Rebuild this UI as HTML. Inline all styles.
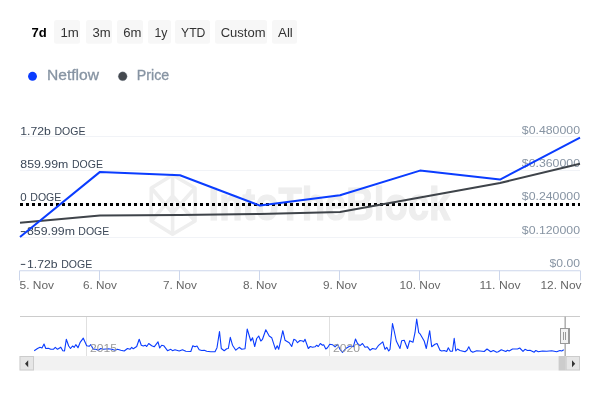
<!DOCTYPE html>
<html><head><meta charset="utf-8"><title>chart</title>
<style>
html,body{margin:0;padding:0;background:#fff;}
body{width:600px;height:400px;overflow:hidden;}
svg{display:block;will-change:transform;font-family:"Liberation Sans",sans-serif;}
</style></head><body>
<svg width="600" height="400" viewBox="0 0 600 400">
<rect width="600" height="400" fill="#ffffff"/>
<!-- range selector -->
<rect x="54" y="20.1" width="26" height="23.7" rx="2.5" fill="#f7f7f7"/><rect x="86" y="20.1" width="26" height="23.7" rx="2.5" fill="#f7f7f7"/><rect x="117" y="20.1" width="26" height="23.7" rx="2.5" fill="#f7f7f7"/><rect x="148" y="20.1" width="23" height="23.7" rx="2.5" fill="#f7f7f7"/><rect x="175" y="20.1" width="35" height="23.7" rx="2.5" fill="#f7f7f7"/><rect x="215" y="20.1" width="52" height="23.7" rx="2.5" fill="#f7f7f7"/><rect x="272" y="20.1" width="25" height="23.7" rx="2.5" fill="#f7f7f7"/>
<g id="btxt">
<text x="31.5" y="36.8" font-size="12" fill="#000000" text-anchor="start" font-weight="bold" textLength="15.2" lengthAdjust="spacingAndGlyphs">7d</text>
<text x="60.5" y="36.8" font-size="12" fill="#333333" text-anchor="start" font-weight="normal" textLength="18.4" lengthAdjust="spacingAndGlyphs">1m</text>
<text x="92.5" y="36.8" font-size="12" fill="#333333" text-anchor="start" font-weight="normal" textLength="18.2" lengthAdjust="spacingAndGlyphs">3m</text>
<text x="123.2" y="36.8" font-size="12" fill="#333333" text-anchor="start" font-weight="normal" textLength="18.2" lengthAdjust="spacingAndGlyphs">6m</text>
<text x="154.5" y="36.8" font-size="12" fill="#333333" text-anchor="start" font-weight="normal" textLength="13" lengthAdjust="spacingAndGlyphs">1y</text>
<text x="181" y="36.8" font-size="12" fill="#333333" text-anchor="start" font-weight="normal" textLength="24.4" lengthAdjust="spacingAndGlyphs">YTD</text>
<text x="220.7" y="36.8" font-size="12" fill="#333333" text-anchor="start" font-weight="normal" textLength="44.8" lengthAdjust="spacingAndGlyphs">Custom</text>
<text x="278" y="36.8" font-size="12" fill="#333333" text-anchor="start" font-weight="normal" textLength="14.8" lengthAdjust="spacingAndGlyphs">All</text>
</g>
<!-- legend -->
<circle cx="32.5" cy="76.3" r="4.45" fill="#0a3cff"/>
<g stroke="#8794a3" stroke-width="0.3"><text x="47" y="80" font-size="14" fill="#8794a3" text-anchor="start" font-weight="normal" textLength="52" lengthAdjust="spacingAndGlyphs">Netflow</text>
<circle cx="122.7" cy="76.3" r="4.45" fill="#45494f"/>
<text x="136.8" y="80" font-size="14" fill="#8794a3" text-anchor="start" font-weight="normal" textLength="32.4" lengthAdjust="spacingAndGlyphs">Price</text></g>
<!-- watermark -->
<g fill="none" stroke="#eeeeee" stroke-width="3.6" stroke-linejoin="round">
<path d="M172.6 175 L195 188 L195 221 L172.6 234.3 L151.3 221 L151.3 188 Z"/>
<path d="M151.3 188 L172.6 213 L195 188 M151.3 221 L172.6 196 L195 221 M172.6 175 V234.3"/>
</g>
<text x="208.6" y="220" font-size="47" font-weight="bold" fill="#eeeeee" stroke="#eeeeee" stroke-width="1.2" textLength="241.5" lengthAdjust="spacingAndGlyphs">IntoTheBlock</text>
<!-- grid -->
<path d="M20 136.5 H580" stroke="#f1f3f7" stroke-width="1"/><path d="M20 170.5 H580" stroke="#f1f3f7" stroke-width="1"/><path d="M20 204 H580" stroke="#f1f3f7" stroke-width="1"/><path d="M20 237.5 H580" stroke="#f1f3f7" stroke-width="1"/>
<!-- axis -->
<path d="M20 270.75 H580" stroke="#ccd6eb" stroke-width="1"/>
<path d="M19.5 270.5 V280.5 M99.5 270.5 V280.5 M179.5 270.5 V280.5 M259.5 270.5 V280.5 M339.5 270.5 V280.5 M419.5 270.5 V280.5 M499.5 270.5 V280.5 M580.5 270.5 V280.5" stroke="#ccd6eb" stroke-width="1"/>
<!-- y labels left -->
<g id="yl">
<text x="20.3" y="134.6" font-size="11" fill="#3c4858" text-anchor="start" font-weight="normal" textLength="30.6" lengthAdjust="spacingAndGlyphs">1.72b</text><text x="54.5" y="134.6" font-size="11" fill="#3c4858" text-anchor="start" font-weight="normal" textLength="31" lengthAdjust="spacingAndGlyphs">DOGE</text>
<text x="20.3" y="167.6" font-size="11" fill="#3c4858" text-anchor="start" font-weight="normal" textLength="48" lengthAdjust="spacingAndGlyphs">859.99m</text><text x="72" y="167.6" font-size="11" fill="#3c4858" text-anchor="start" font-weight="normal" textLength="31" lengthAdjust="spacingAndGlyphs">DOGE</text>
<text x="20.3" y="201.4" font-size="11" fill="#3c4858" text-anchor="start" font-weight="normal" textLength="6.4" lengthAdjust="spacingAndGlyphs">0</text><text x="30.3" y="201.4" font-size="11" fill="#3c4858" text-anchor="start" font-weight="normal" textLength="31" lengthAdjust="spacingAndGlyphs">DOGE</text>
<path d="M20.8 231.6 H25.3 M20.8 264.4 H25.3" stroke="#3c4858" stroke-width="1"/>
<text x="27" y="234.9" font-size="11" fill="#3c4858" text-anchor="start" font-weight="normal" textLength="48" lengthAdjust="spacingAndGlyphs">859.99m</text><text x="78.3" y="234.9" font-size="11" fill="#3c4858" text-anchor="start" font-weight="normal" textLength="31" lengthAdjust="spacingAndGlyphs">DOGE</text>
<text x="27" y="267.7" font-size="11" fill="#3c4858" text-anchor="start" font-weight="normal" textLength="30.6" lengthAdjust="spacingAndGlyphs">1.72b</text><text x="61.2" y="267.7" font-size="11" fill="#3c4858" text-anchor="start" font-weight="normal" textLength="31" lengthAdjust="spacingAndGlyphs">DOGE</text>
</g>
<g id="yr">
<text x="580" y="133.7" font-size="11" fill="#8794a3" text-anchor="end" font-weight="normal" textLength="58.2" lengthAdjust="spacingAndGlyphs">$0.480000</text>
<text x="580" y="166.7" font-size="11" fill="#8794a3" text-anchor="end" font-weight="normal" textLength="58.2" lengthAdjust="spacingAndGlyphs">$0.360000</text>
<text x="580" y="200.3" font-size="11" fill="#8794a3" text-anchor="end" font-weight="normal" textLength="58.2" lengthAdjust="spacingAndGlyphs">$0.240000</text>
<text x="580" y="233.7" font-size="11" fill="#8794a3" text-anchor="end" font-weight="normal" textLength="58.2" lengthAdjust="spacingAndGlyphs">$0.120000</text>
<text x="580" y="267.1" font-size="11" fill="#8794a3" text-anchor="end" font-weight="normal" textLength="30.4" lengthAdjust="spacingAndGlyphs">$0.00</text>
</g>
<g id="xl">
<text x="19.5" y="289" font-size="11" fill="#666666" text-anchor="start" font-weight="normal" textLength="34.5" lengthAdjust="spacingAndGlyphs">5. Nov</text>
<text x="100" y="289" font-size="11" fill="#666666" text-anchor="middle" font-weight="normal" textLength="34" lengthAdjust="spacingAndGlyphs">6. Nov</text>
<text x="180" y="289" font-size="11" fill="#666666" text-anchor="middle" font-weight="normal" textLength="34" lengthAdjust="spacingAndGlyphs">7. Nov</text>
<text x="260" y="289" font-size="11" fill="#666666" text-anchor="middle" font-weight="normal" textLength="34" lengthAdjust="spacingAndGlyphs">8. Nov</text>
<text x="340" y="289" font-size="11" fill="#666666" text-anchor="middle" font-weight="normal" textLength="34" lengthAdjust="spacingAndGlyphs">9. Nov</text>
<text x="420" y="289" font-size="11" fill="#666666" text-anchor="middle" font-weight="normal" textLength="41" lengthAdjust="spacingAndGlyphs">10. Nov</text>
<text x="500" y="289" font-size="11" fill="#666666" text-anchor="middle" font-weight="normal" textLength="41" lengthAdjust="spacingAndGlyphs">11. Nov</text>
<text x="581.5" y="289" font-size="11" fill="#666666" text-anchor="end" font-weight="normal" textLength="41" lengthAdjust="spacingAndGlyphs">12. Nov</text>
</g>
<!-- series -->
<path d="M20 204.5 H580" stroke="#000" stroke-width="3" stroke-dasharray="3 3"/>
<path d="M20 222.8 L100 215.6 L180 215 L260 214 L340 212 L420 197.5 L500 183 L580 163.8" fill="none" stroke="#3f444a" stroke-width="2" stroke-linejoin="round"/>
<path d="M20 237 L100 171.9 L180 175.2 L260 205.6 L340 195.2 L420 170.6 L500 179.6 L580 137.7" fill="none" stroke="#0a3cff" stroke-width="2" stroke-linejoin="round"/>
<!-- navigator -->
<path d="M86.5 316.5 V356 M329.5 316.5 V356" stroke="#e0e0e0" stroke-width="1"/>
<path d="M20 316.5 H580" stroke="#cccccc" stroke-width="1"/>
<path d="M34.2 350.7 L37.5 348.5 L40.0 347.3 L42.0 348.0 L44.0 344.0 L45.8 348.5 L48.3 348.2 L50.8 349.3 L53.3 349.3 L55.3 347.3 L57.5 349.3 L60.8 347.2 L62.8 350.7 L64.5 351.0 L66.3 339.3 L68.7 346.0 L70.5 348.5 L72.5 346.0 L74.2 347.3 L75.8 344.7 L78.0 347.7 L80.0 342.7 L83.3 338.2 L86.7 345.7 L89.2 346.3 L90.8 344.7 L93.3 349.3 L95.8 349.3 L98.3 350.2 L100.8 348.5 L103.3 349.3 L108.3 348.8 L111.7 349.3 L115.0 350.2 L117.5 349.3 L120.8 350.2 L124.2 351.0 L127.5 348.5 L130.0 349.3 L131.7 347.3 L133.3 348.8 L136.7 346.5 L139.2 339.3 L141.3 345.2 L143.3 346.0 L145.3 345.2 L146.7 346.5 L148.7 343.5 L151.7 345.7 L154.2 346.8 L158.0 341.8 L159.7 348.0 L161.7 345.2 L163.7 345.7 L167.5 350.7 L170.8 349.3 L172.5 350.7 L175.0 349.8 L179.2 351.0 L182.5 349.8 L185.8 351.3 L190.8 351.5 L192.8 345.7 L195.0 346.8 L197.0 346.0 L199.2 349.8 L201.7 350.5 L204.2 350.2 L206.7 351.3 L210.8 351.8 L215.0 351.8 L217.0 347.7 L219.5 331.5 L221.3 348.5 L224.2 350.7 L226.7 348.8 L228.3 348.5 L230.3 337.3 L232.5 345.2 L235.8 350.2 L239.2 347.3 L241.7 349.3 L245.0 348.8 L247.2 329.0 L250.8 341.0 L252.5 337.7 L254.7 346.5 L256.7 338.5 L258.7 336.0 L260.8 341.0 L262.5 339.3 L265.8 329.7 L269.2 336.0 L271.7 337.7 L275.5 349.3 L277.2 345.7 L278.7 349.3 L282.8 330.7 L285.0 340.2 L289.2 342.7 L291.7 346.5 L293.8 339.3 L295.8 340.2 L297.5 342.7 L300.0 340.5 L302.5 341.0 L303.7 341.8 L305.0 339.3 L308.3 348.5 L310.3 346.5 L312.5 347.3 L315.0 346.8 L316.7 345.2 L318.3 346.5 L320.3 343.5 L322.5 345.2 L323.7 344.7 L325.8 349.0 L327.5 347.7 L329.7 344.3 L332.5 344.7 L335.0 346.8 L337.5 344.3 L340.0 349.3 L342.5 352.3 L345.8 348.5 L350.0 346.0 L353.3 346.8 L355.5 339.0 L357.5 343.5 L360.0 345.7 L362.5 343.5 L365.0 347.3 L367.5 346.8 L370.0 350.2 L372.5 348.5 L375.8 349.3 L378.3 345.7 L382.8 341.8 L385.0 349.3 L386.7 347.3 L388.7 351.0 L390.0 349.3 L392.5 323.5 L394.2 331.0 L396.3 341.0 L400.0 348.5 L401.7 340.7 L404.2 340.2 L407.5 348.5 L409.7 340.7 L413.0 342.2 L415.0 332.7 L416.7 319.0 L418.7 332.7 L420.0 333.8 L424.2 341.0 L426.3 348.5 L429.7 330.7 L431.7 346.8 L435.0 344.3 L437.0 343.5 L440.0 350.2 L441.7 351.0 L444.2 350.5 L446.7 351.5 L448.3 347.7 L450.3 351.3 L452.5 351.3 L454.2 338.2 L455.8 351.0 L457.5 349.0 L460.0 350.5 L465.0 351.8 L467.0 350.2 L468.8 346.8 L470.8 351.0 L472.8 352.3 L476.7 350.7 L480.0 351.0 L484.2 351.5 L487.0 349.0 L490.8 351.8 L493.3 350.5 L496.7 352.2 L498.3 351.8 L501.3 349.7 L505.8 351.5 L507.5 350.2 L509.2 351.0 L512.5 349.0 L517.5 349.0 L519.7 348.0 L523.0 351.3 L525.0 349.3 L527.5 350.5 L530.0 350.2 L534.2 352.2 L535.8 350.5 L538.3 351.8 L542.5 351.0 L546.7 351.3 L551.7 350.7 L556.7 351.8 L560.0 350.5 L561.7 351.0 L563.8 349.8" fill="none" stroke="#0a3cff" stroke-width="1.1" stroke-linejoin="round"/>
<text x="90" y="352" font-size="11" fill="#999999" text-anchor="start" font-weight="normal" textLength="27" lengthAdjust="spacingAndGlyphs">2015</text>
<text x="333" y="352" font-size="11" fill="#999999" text-anchor="start" font-weight="normal" textLength="27" lengthAdjust="spacingAndGlyphs">2020</text>
<!-- scrollbar -->
<rect x="19.5" y="356" width="560.5" height="14.5" fill="#f2f2f2"/>
<rect x="20" y="356.5" width="13.5" height="13.5" fill="#e6e6e6" stroke="#cccccc"/>
<path d="M28.2 360.3 V367.3 L25 363.8 Z" fill="#333"/>
<rect x="558.6" y="356" width="7.2" height="14.5" fill="#cccccc"/>
<rect x="566.2" y="356.5" width="13.3" height="13.5" fill="#e6e6e6" stroke="#cccccc"/>
<path d="M572 360.3 V367.3 L575.2 363.8 Z" fill="#333"/>
<!-- handle -->
<path d="M565.2 316.5 V356" stroke="#b2b2b2" stroke-width="1.6"/>
<rect x="561.5" y="328.5" width="8" height="15" fill="#f2f2f2" stroke="#999999"/>
<rect x="560.5" y="328.5" width="8" height="15" fill="#f2f2f2" stroke="#999999"/>
<path d="M563.5 332 V340 M565.5 332 V340" stroke="#999999" stroke-width="1"/>
</svg>
</body></html>
